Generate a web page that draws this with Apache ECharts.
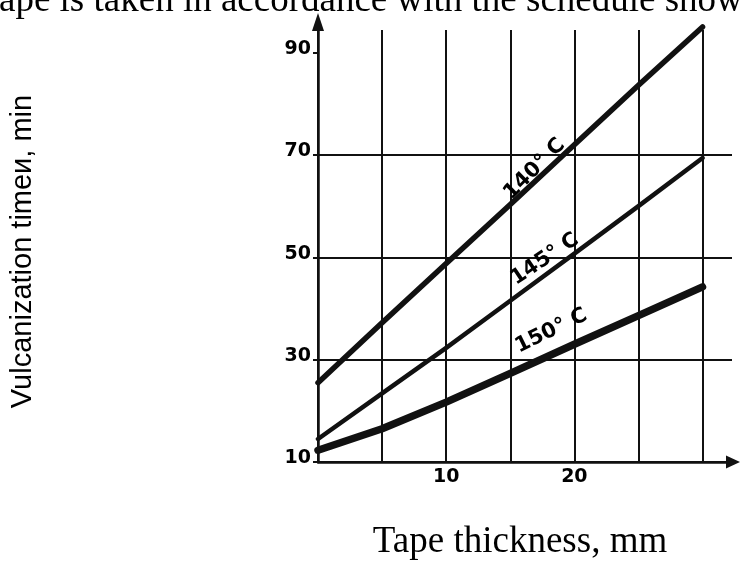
<!DOCTYPE html>
<html><head><meta charset="utf-8">
<script src="https://cdn.jsdelivr.net/npm/echarts@6/dist/echarts.min.js"></script>
<style>html,body{margin:0;padding:0;background:#fff}#c{width:741px;height:561px}</style>
</head><body><div id="c"></div>
<script>
// Data
const thickness = [0, 5, 10, 15, 20, 25, 30];            // mm
const time140 = [25.5, 37.2, 48.8, 60.3, 72.0, 83.6, 95.0]; // min
const time145 = [14.5, 23.4, 32.3, 41.5, 50.7, 60.0, 69.4];
const time150 = [12.3, 16.5, 21.7, 27.3, 33.0, 38.6, 44.2];
const seriesNames = ['140° C', '145° C', '150° C'];
const labelAnchorX = [16.9, 17.7, 18.2];
const labelAnchorY = [67.2, 49.6, 35.6];
const labelAngles = [45, 34, 26];
const yTickLabels = [10, 30, 50, 70, 90];
const xTickLabels = [10, 20];
const topText = 'ape is taken in accordance with the schedule shown';
const xTitle = 'Tape thickness, mm';
const yTitle = 'Vulcanization timeи, min';

const ink = '#111';
const lineWidths = [5.5, 4.5, 7.5];
const allSeries = [time140, time145, time150];

const chart = echarts.init(document.getElementById('c'), null, {renderer: 'canvas'});
const tickFont = {fontFamily: 'DejaVu Sans', fontWeight: 'bold', fontSize: 19, color: '#000'};

const option = {
  backgroundColor: '#fff',
  animation: false,
  grid: {left: 318, top: 30, right: 9, bottom: 99, containLabel: false},
  xAxis: {
    type: 'value', min: 0, max: 32.3, interval: 5,
    axisLine: {show: true, lineStyle: {color: ink, width: 2.5}, symbol: ['none', 'triangle'], symbolSize: [13, 14], symbolOffset: [0, 1]},
    axisTick: {show: false},
    axisLabel: Object.assign({customValues: xTickLabels, margin: 6}, tickFont),
    splitLine: {show: true, showMaxLine: false, lineStyle: {color: ink, width: 2}}
  },
  yAxis: {
    type: 'value', min: 10, max: 94.4, interval: 10,
    axisLine: {show: true, lineStyle: {color: ink, width: 2.5}, symbol: ['none', 'triangle'], symbolSize: [12, 18], symbolOffset: [0, 8]},
    axisTick: {show: true, customValues: yTickLabels, length: 5, lineStyle: {color: ink, width: 2}},
    axisLabel: Object.assign({customValues: yTickLabels, margin: 7, verticalAlign: 'bottom', lineHeight: 7}, tickFont),
    splitLine: {show: true, showMaxLine: false, lineStyle: {color: ink, width: 2}}
  },
  graphic: [
    {type: 'text', left: -1, top: -17, style: {text: topText, font: '37px "Liberation Serif"', fill: '#000'}},
    {type: 'text', x: 520, y: 542.5, style: {text: xTitle, font: '37px "Liberation Serif"', fill: '#000', align: 'center', verticalAlign: 'middle'}},
    {type: 'text', x: 23, y: 251.5, rotation: Math.PI / 2, style: {text: yTitle, font: '29px "Liberation Sans"', fill: '#000', align: 'center', verticalAlign: 'middle'}}
  ],
  series: allSeries.map((vals, i) => ({
    name: seriesNames[i], type: 'line', clip: false, symbol: 'none', smooth: false,
    data: thickness.map((t, k) => [t, vals[k]]),
    lineStyle: {color: ink, width: lineWidths[i], cap: 'round', join: 'round'}
  })).concat([{
    type: 'scatter', symbolSize: 0, clip: false, silent: true,
    itemStyle: {opacity: 1},
    data: seriesNames.map((n, i) => ({
      value: [labelAnchorX[i], labelAnchorY[i]],
      label: {show: true, position: 'inside', formatter: n, rotate: labelAngles[i], opacity: 1,
        fontFamily: 'DejaVu Sans', fontWeight: 'bold', fontSize: 21, color: '#000'}
    }))
  }])
};
chart.setOption(option);
</script></body></html>
